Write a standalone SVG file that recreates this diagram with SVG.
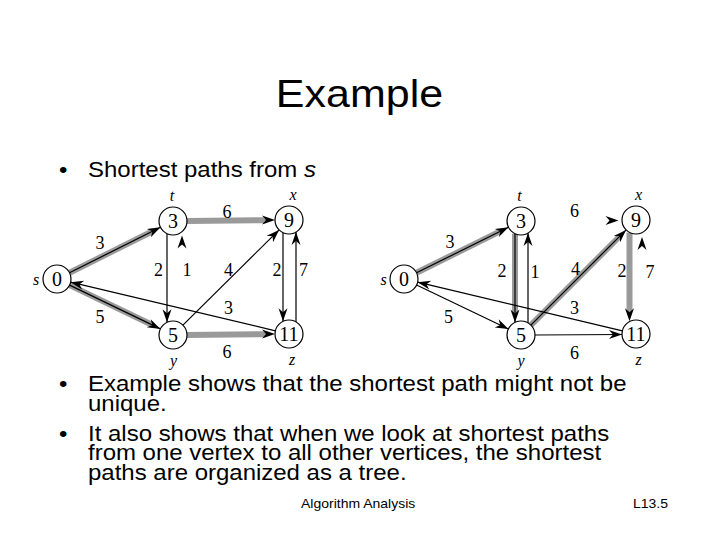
<svg xmlns="http://www.w3.org/2000/svg" xmlns:xlink="http://www.w3.org/1999/xlink" width="720" height="540" viewBox="0 0 720 540">
<style>
.title{font-family:"Liberation Sans",Arial,sans-serif;font-size:38px;fill:#000}
.body{font-family:"Liberation Sans",Arial,sans-serif;font-size:21.5px;fill:#000}
.foot{font-family:"Liberation Sans",Arial,sans-serif;font-size:13px;fill:#000}
.node circle{fill:#fff;stroke:#000;stroke-width:1.2}
.val{font-family:"Liberation Serif","Times New Roman",serif;font-size:20px;text-anchor:middle;fill:#000}
.nl{font-family:"Liberation Serif","Times New Roman",serif;font-style:italic;font-size:16px;text-anchor:middle;fill:#000}
.w{font-family:"Liberation Serif","Times New Roman",serif;font-size:18px;text-anchor:middle;fill:#000}
.e{stroke:#000;stroke-width:1.2;fill:none;marker-end:url(#arr)}
.g{stroke:#9a9a9a;stroke-width:6;fill:none}
</style>
<defs>
<marker id="arr" markerUnits="userSpaceOnUse" markerWidth="16" markerHeight="12" viewBox="-14 -6 16 12" refX="0" refY="0" orient="auto">
<path d="M0,0 L-13,-4.5 L-9,0 L-13,4.5 Z" fill="#000"/>
</marker>
<path id="head" d="M0,0 L-13,-4.5 L-9,0 L-13,4.5 Z" fill="#000"/>
</defs>
<rect width="720" height="540" fill="#fff"/>
<text class="title" transform="scale(1.1316,1)" x="317.7" y="107" text-anchor="middle">Example</text>
<g transform="scale(1.1163,1)">
<text class="body" x="52.85" y="177">•</text>
<text class="body" x="78.83" y="177">Shortest paths from <tspan font-style="italic">s</tspan></text>
</g>

<g id="connectors-left">
<line class="g" x1="69.5" y1="272.7" x2="151.6" y2="231.8"/>
<line class="e" x1="69.5" y1="272.7" x2="160.5" y2="227.3"/>
<line class="g" x1="69.6" y1="285.1" x2="151.4" y2="324.5"/>
<line class="e" x1="69.6" y1="285.1" x2="160.4" y2="328.9"/>
<line class="g" x1="187" y1="221" x2="266" y2="220.2"/>
<use xlink:href="#head" href="#head" transform="translate(275,220.1)"/>
<line class="g" x1="187" y1="335" x2="266" y2="334.2"/>
<use xlink:href="#head" href="#head" transform="translate(275,334.1)"/>
<line class="e" x1="167" y1="233.6" x2="167" y2="322.3"/>
<use xlink:href="#head" href="#head" transform="translate(182,235.5) rotate(-90)"/>
<line class="e" x1="182.9" y1="325.1" x2="279.1" y2="229.9"/>
<line class="e" x1="283" y1="232.6" x2="283" y2="321.3"/>
<line class="e" x1="296" y1="321.9" x2="296" y2="232.1"/>
<line class="e" x1="275.4" y1="330.8" x2="70.6" y2="282.2"/>
</g>
<g id="connectors-right">
<line class="g" x1="416.5" y1="272.8" x2="499.5" y2="231.6"/>
<line class="e" x1="416.5" y1="272.8" x2="508.5" y2="227.2"/>
<line class="e" x1="416.6" y1="285" x2="508.4" y2="329"/>
<use xlink:href="#head" href="#head" transform="translate(618.5,220.5)"/>
<line class="g" x1="515" y1="233.6" x2="515" y2="313"/>
<line class="e" x1="515" y1="233.6" x2="515" y2="322.4"/>
<line class="e" x1="528" y1="322.9" x2="528" y2="233.1"/>
<line class="g" x1="530.9" y1="325.1" x2="619" y2="237"/>
<line class="e" x1="530.9" y1="325.1" x2="626.1" y2="229.9"/>
<line class="g" x1="629.5" y1="232.6" x2="629.5" y2="312"/>
<use xlink:href="#head" href="#head" transform="translate(629.5,321.3) rotate(90)"/>
<use xlink:href="#head" href="#head" transform="translate(642,237) rotate(-90)"/>
<line class="e" x1="622.4" y1="330.8" x2="417.6" y2="282.2"/>
<line class="e" x1="535" y1="335" x2="622" y2="334.5"/>
</g>

<g id="L-s" class="node"><circle cx="57" cy="279" r="14"/><text class="val" x="57" y="285.5">0</text><text class="nl" x="36" y="285">s</text></g>
<g id="L-t" class="node"><circle cx="173" cy="221" r="14"/><text class="val" x="173" y="227.5">3</text><text class="nl" x="172" y="201">t</text></g>
<g id="L-x" class="node"><circle cx="289" cy="220" r="14"/><text class="val" x="289" y="226.5">9</text><text class="nl" x="293" y="200">x</text></g>
<g id="L-y" class="node"><circle cx="173" cy="335" r="14"/><text class="val" x="173" y="341.5">5</text><text class="nl" x="173.5" y="366">y</text></g>
<g id="L-z" class="node"><circle cx="289" cy="334" r="14"/><text class="val" x="289" y="340.5">11</text><text class="nl" x="292" y="365">z</text></g>

<g id="L-weights">
<text class="w" x="100" y="249">3</text>
<text class="w" x="227" y="217.5">6</text>
<text class="w" x="158.5" y="276">2</text>
<text class="w" x="187" y="276">1</text>
<text class="w" x="228.5" y="276">4</text>
<text class="w" x="277" y="276">2</text>
<text class="w" x="303.5" y="276">7</text>
<text class="w" x="228.5" y="314">3</text>
<text class="w" x="100" y="322.5">5</text>
<text class="w" x="227" y="357.5">6</text>
</g>

<g id="R-s" class="node"><circle cx="404" cy="279" r="14"/><text class="val" x="404" y="285.5">0</text><text class="nl" x="383.5" y="285">s</text></g>
<g id="R-t" class="node"><circle cx="521" cy="221" r="14"/><text class="val" x="521" y="227.5">3</text><text class="nl" x="519.5" y="200.5">t</text></g>
<g id="R-x" class="node"><circle cx="636" cy="220" r="14"/><text class="val" x="636" y="226.5">9</text><text class="nl" x="638.5" y="199.5">x</text></g>
<g id="R-y" class="node"><circle cx="521" cy="335" r="14"/><text class="val" x="521" y="341.5">5</text><text class="nl" x="521" y="366">y</text></g>
<g id="R-z" class="node"><circle cx="636" cy="334" r="14"/><text class="val" x="636" y="340.5">11</text><text class="nl" x="638.5" y="365">z</text></g>

<g id="R-weights">
<text class="w" x="450" y="247.5">3</text>
<text class="w" x="574.5" y="216.5">6</text>
<text class="w" x="502" y="276.5">2</text>
<text class="w" x="535" y="277.5">1</text>
<text class="w" x="575.5" y="275">4</text>
<text class="w" x="622" y="276.5">2</text>
<text class="w" x="650" y="277.5">7</text>
<text class="w" x="574.5" y="314">3</text>
<text class="w" x="448.5" y="322.5">5</text>
<text class="w" x="574.5" y="358.5">6</text>
</g>

<g transform="scale(1.1163,1)">
<text class="body" x="52.85" y="391">•</text>
<text class="body" x="78.83" y="391">Example shows that the shortest path might not be</text>
<text class="body" x="78.83" y="411">unique.</text>
<text class="body" x="52.85" y="441">•</text>
<text class="body" x="78.83" y="441">It also shows that when we look at shortest paths</text>
<text class="body" x="78.83" y="460.5">from one vertex to all other vertices, the shortest</text>
<text class="body" x="78.83" y="480">paths are organized as a tree.</text>
</g>

<g transform="scale(1.077,1)">
<text class="foot" x="279.5" y="508">Algorithm Analysis</text>
<text class="foot" x="587.7" y="508">L13.5</text>
</g>
</svg>
